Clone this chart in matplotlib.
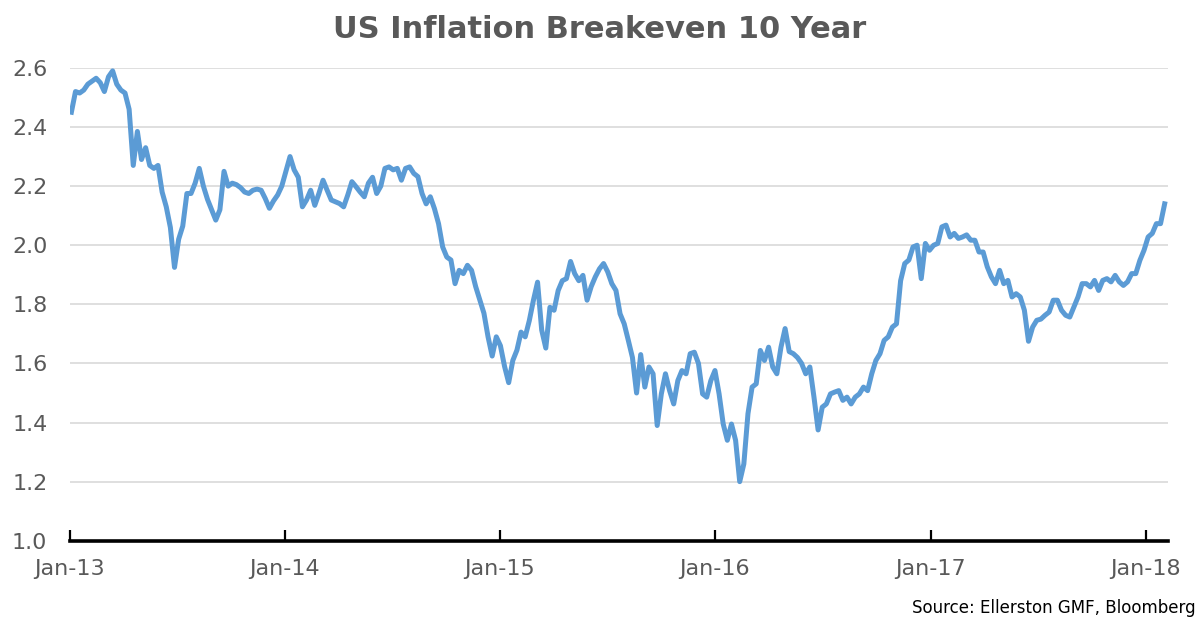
import pandas as pd
import matplotlib
matplotlib.use("Agg")
import matplotlib.pyplot as plt
import matplotlib.dates as mdates

# weekly readings of the 10y breakeven (%), Fridays from 4 Jan 2013
start = "2013-01-04"
be10 = [
    2.45, 2.52, 2.515, 2.525, 2.545, 2.555, 2.565, 2.55, 2.52, 2.57,
    2.59, 2.545, 2.525, 2.515, 2.46, 2.27, 2.385, 2.29, 2.33, 2.27,
    2.26, 2.27, 2.18, 2.13, 2.06, 1.925, 2.02, 2.065, 2.175, 2.175,
    2.21, 2.26, 2.2, 2.155, 2.12, 2.085, 2.12, 2.25, 2.2, 2.21,
    2.205, 2.195, 2.18, 2.175, 2.186, 2.19, 2.186, 2.158, 2.125, 2.15,
    2.17, 2.2, 2.25, 2.3, 2.255, 2.23, 2.13, 2.153, 2.186, 2.135,
    2.175, 2.22, 2.186, 2.153, 2.147, 2.141, 2.13, 2.17, 2.215, 2.198,
    2.18, 2.164, 2.21, 2.23, 2.175, 2.2, 2.26, 2.265, 2.255, 2.26,
    2.22, 2.26, 2.265, 2.243, 2.232, 2.175, 2.14, 2.164, 2.124, 2.073,
    1.994, 1.96, 1.95, 1.87, 1.915, 1.904, 1.932, 1.915, 1.86, 1.815,
    1.77, 1.69, 1.625, 1.69, 1.66, 1.59, 1.535, 1.61, 1.645, 1.706,
    1.69, 1.745, 1.814, 1.875, 1.713, 1.652, 1.79, 1.78, 1.847, 1.88,
    1.887, 1.945, 1.904, 1.88, 1.898, 1.814, 1.86, 1.893, 1.92, 1.938,
    1.91, 1.87, 1.847, 1.768, 1.734, 1.678, 1.62, 1.50, 1.63, 1.52,
    1.588, 1.565, 1.39, 1.497, 1.565, 1.508, 1.463, 1.542, 1.576, 1.565,
    1.633, 1.638, 1.6, 1.497, 1.486, 1.542, 1.576, 1.497, 1.395, 1.34,
    1.395, 1.34, 1.2, 1.26, 1.43, 1.52, 1.531, 1.644, 1.61, 1.655,
    1.588, 1.565, 1.655, 1.718, 1.64, 1.633, 1.62, 1.6, 1.565, 1.588,
    1.486, 1.375, 1.452, 1.463, 1.497, 1.503, 1.508, 1.475, 1.486, 1.463,
    1.486, 1.497, 1.52, 1.508, 1.565, 1.61, 1.633, 1.678, 1.69, 1.723,
    1.734, 1.88, 1.938, 1.95, 1.994, 2.0, 1.887, 2.006, 1.983, 2.0,
    2.006, 2.062, 2.068, 2.028, 2.04, 2.023, 2.028, 2.035, 2.017, 2.017,
    1.977, 1.977, 1.927, 1.893, 1.87, 1.915, 1.87, 1.881, 1.825, 1.836,
    1.825, 1.78, 1.675, 1.723, 1.746, 1.75, 1.763, 1.774, 1.814, 1.814,
    1.78, 1.763, 1.757, 1.791, 1.825, 1.87, 1.87, 1.859, 1.881, 1.847,
    1.881, 1.887, 1.876, 1.898, 1.876, 1.864, 1.876, 1.904, 1.904, 1.949,
    1.983, 2.028, 2.04, 2.073, 2.073, 2.14,
]
yticks = [1.0, 1.2, 1.4, 1.6, 1.8, 2.0, 2.2, 2.4, 2.6]
xticks = ["2013-01-01", "2014-01-01", "2015-01-01", "2016-01-01", "2017-01-01", "2018-01-01"]

dates = pd.date_range(start, periods=len(be10), freq="W-FRI")
grey = "#595959"

fig = plt.figure(figsize=(12, 6.23), dpi=100)
ax = fig.add_axes([0.058, 0.132, 0.915, 0.759])
ax.plot(dates, be10, color="#5B9BD5", lw=3.6, solid_joinstyle="round", zorder=3)

ax.set_ylim(1.0, 2.6)
ax.set_yticks(yticks)
ax.set_yticklabels(["%.1f" % v for v in yticks])
ax.set_xlim(pd.Timestamp("2013-01-01"), pd.Timestamp("2018-02-07"))
ax.set_xticks(pd.to_datetime(xticks))
ax.xaxis.set_major_formatter(mdates.DateFormatter("%b-%y"))

ax.grid(axis="y", color="#D9D9D9", lw=1.2)
ax.set_axisbelow(True)
for s in ["top", "right", "left"]:
    ax.spines[s].set_visible(False)
ax.spines["bottom"].set_linewidth(2.6)
ax.spines["bottom"].set_color("black")
ax.tick_params(axis="x", direction="in", length=8, width=1.6, pad=13,
               labelsize=16, labelcolor=grey)
ax.tick_params(axis="y", length=0, pad=16, labelsize=16, labelcolor=grey)

fig.text(0.5, 0.952, "US Inflation Breakeven 10 Year", ha="center", va="center",
         fontsize=22, fontweight="bold", color=grey)
fig.text(0.996, 0.024, "Source: Ellerston GMF, Bloomberg", ha="right", va="center",
         fontsize=12, color="black")

fig.savefig("out.png", dpi=100)
